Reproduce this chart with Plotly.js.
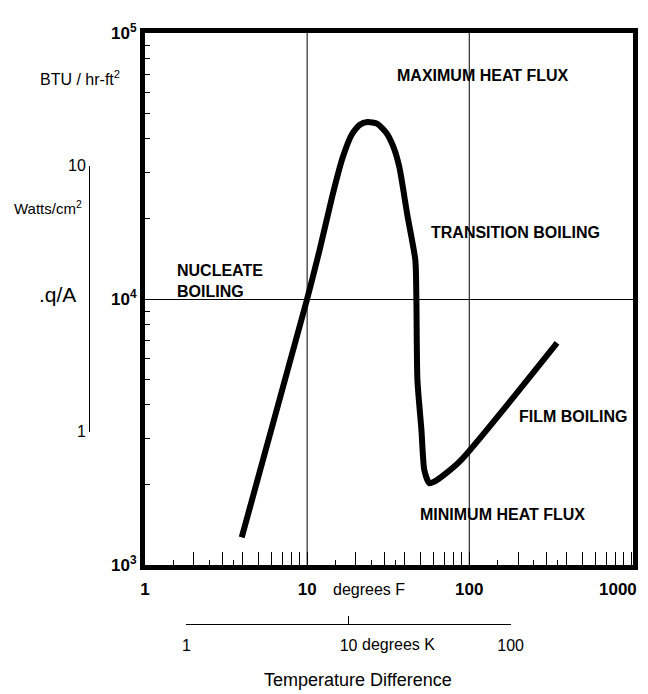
<!DOCTYPE html>
<html>
<head>
<meta charset="utf-8">
<script src="https://cdn.plot.ly/plotly-3.0.1.min.js"></script>
<style>html,body{margin:0;padding:0;background:#fff;}</style>
</head>
<body>
<div id="chart" style="width:648px;height:694px;"></div>
<script>
// ---- data ----
// Temperature difference, degrees F
const deltaT_F = [3.95, 10, 11.94, 14.35, 16.53, 18.79, 21.04, 23.57, 27.16, 30.85, 34.06, 37.06, 41.5, 46.5, 47.2, 47.9, 50.7, 52.8, 56.7, 63.5, 86.8, 348];
// Heat flux q/A, BTU / hr-ft^2
const heatFlux = [1270, 10000, 15280, 24600, 33900, 41400, 45100, 46300, 45500, 42100, 37300, 31300, 20700, 14000, 9910, 4950, 3220, 2280, 2030, 2090, 2440, 6840];

// axis ticks
const fTickVals = [1,2,3,4,5,6,7,8,9,10,20,30,40,50,60,70,80,90,100,200,300,400,500,600,700,800,900,1000];
const fTickText = ['1','','','','','','','','','10','','','','','','','','','100','','','','','','','','',''];
const fEndLabel = '1000';
const fMinorVals = [1.5,2.5,3.5,15,25,35,150,250,350];
const gridX = [10, 100];
const qTickVals = [1000, 10000, 100000];
const qTickText = ['10<sup>3</sup>','10<sup>4</sup>','10<sup>5</sup>'];
const qMinorVals = [2000,3000,4000,5000,6000,7000,8000,9000,20000,30000,40000,50000,60000,70000,80000,90000];
const kTickVals = [1, 10, 100];
const kTickText = ['1','10','100'];
const wTickVals = [1, 10];
const wTickText = ['1','10'];
const F_PER_K = 1.8;          // degrees F per degree K (difference)
const BTU_PER_WCM2 = 3170;    // BTU/hr-ft^2 per W/cm^2

// ---- layout helpers ----
const W = 648, H = 694;
const X = px => px / W;
const Y = py => 1 - py / H;
const FONT = "Liberation Sans, Arial, sans-serif";

const xDom = [X(145), X(633)];
const yDom = [Y(565), Y(33)];
const xRange = [0, 3.01];
const yRange = [3, 5];
const kDom = [
  xDom[0] + (xDom[1]-xDom[0]) * (Math.log10(F_PER_K*kTickVals[0]) - xRange[0])/(xRange[1]-xRange[0]),
  xDom[0] + (xDom[1]-xDom[0]) * (Math.log10(F_PER_K*kTickVals[2]) - xRange[0])/(xRange[1]-xRange[0])
];
const wDom = [
  yDom[0] + (yDom[1]-yDom[0]) * (Math.log10(BTU_PER_WCM2*wTickVals[0]) - yRange[0])/(yRange[1]-yRange[0]),
  yDom[0] + (yDom[1]-yDom[0]) * (Math.log10(BTU_PER_WCM2*wTickVals[1]) - yRange[0])/(yRange[1]-yRange[0])
];

const traces = [
  {x: deltaT_F, y: heatFlux, type:'scatter', mode:'lines',
   line:{color:'black', width:6, shape:'spline', smoothing:0.6}, hoverinfo:'skip'},
  {x: [], y: [], type:'scatter', mode:'lines', xaxis:'x2', yaxis:'y', hoverinfo:'skip'},
  {x: [], y: [], type:'scatter', mode:'lines', xaxis:'x', yaxis:'y2', hoverinfo:'skip'}
];

const ann = (text, x, y, size, opts) => Object.assign({
  text, x, y, xref:'paper', yref:'paper', xanchor:'left', yanchor:'middle',
  showarrow:false, font:{family:FONT, size, color:'black'}
}, opts || {});

const layout = {
  width: W, height: H,
  margin: {l:0, r:0, t:0, b:0},
  paper_bgcolor:'white', plot_bgcolor:'rgba(0,0,0,0)',
  showlegend:false,
  font:{family:FONT, color:'black'},
  xaxis: {
    type:'log', domain:xDom, range:xRange, anchor:'y', fixedrange:true,
    showline:true, mirror:true, linewidth:5, linecolor:'black',
    tickmode:'array', tickvals:fTickVals, ticktext:fTickText,
    ticks:'inside', ticklen:13, tickwidth:1, tickcolor:'black',
    showgrid:false, zeroline:false, ticklabelstandoff:5,
    tickfont:{family:FONT, size:17, weight:'bold', color:'black'},
    minor:{tickmode:'array', tickvals:fMinorVals, ticks:'inside', ticklen:5, tickwidth:1, tickcolor:'black', showgrid:false}
  },
  yaxis: {
    type:'log', domain:yDom, range:yRange, anchor:'x', fixedrange:true,
    showline:true, mirror:true, linewidth:5, linecolor:'black',
    tickmode:'array', tickvals:qTickVals, ticktext:qTickText,
    ticks:'inside', ticklen:5, tickwidth:1, tickcolor:'black',
    showgrid:true, gridcolor:'black', gridwidth:1, zeroline:false,
    tickfont:{family:FONT, size:17, weight:'bold', color:'black'},
    minor:{tickmode:'array', tickvals:qMinorVals, ticks:'inside', ticklen:5, tickwidth:1, tickcolor:'black', showgrid:false}
  },
  xaxis2: {
    type:'log', domain:kDom, range:[0,2], anchor:'free', position:Y(624), side:'bottom', fixedrange:true,
    showline:true, linewidth:1, linecolor:'black',
    tickmode:'array', tickvals:kTickVals, ticktext:kTickText,
    ticks:'inside', ticklen:8, tickwidth:1, tickcolor:'black',
    showgrid:false, zeroline:false, ticklabelstandoff:7,
    tickfont:{family:FONT, size:16, color:'black'}
  },
  yaxis2: {
    type:'log', domain:wDom, range:[0,1], anchor:'free', position:X(89), side:'left', fixedrange:true,
    showline:true, linewidth:1, linecolor:'black',
    tickmode:'array', tickvals:wTickVals, ticktext:wTickText,
    ticks:'inside', ticklen:6, tickwidth:1, tickcolor:'black',
    showgrid:false, zeroline:false,
    tickfont:{family:FONT, size:16, color:'black'}
  },
  shapes: gridX.map(v => ({type:'line', xref:'x', yref:'paper', x0:v, x1:v, y0:yDom[0], y1:yDom[1],
    line:{color:'black', width:1}, layer:'below'})),
  annotations: [
    ann('BTU / hr-ft<sup>2</sup>', X(38), Y(78), 16),
    ann('Watts/cm<sup>2</sup>', X(12), Y(207), 15),
    ann('.q/A', X(37), Y(294), 21),
    ann('<b>' + fEndLabel + '</b>', Math.log10(fTickVals[fTickVals.length-1]), Y(589), 17, {xref:'x', xanchor:'right', xshift:8}),
    ann('degrees F', Math.log10(gridX[0]), Y(589), 16, {xref:'x', xshift:24}),
    ann('degrees K', Math.log10(F_PER_K*kTickVals[1]), Y(644), 16, {xref:'x', xshift:11}),
    ann('Temperature Difference', X(358), Y(680), 18, {xanchor:'center'}),
    ann('<b>MAXIMUM HEAT FLUX</b>', X(395), Y(75), 16),
    ann('<b>TRANSITION BOILING</b>', X(429), Y(232), 16),
    ann('<b>NUCLEATE<br>BOILING</b>', X(175), Y(281), 16, {align:'left'}),
    ann('<b>FILM BOILING</b>', X(517), Y(416), 16),
    ann('<b>MINIMUM HEAT FLUX</b>', X(418), Y(514), 16)
  ]
};

Plotly.newPlot('chart', traces, layout, {staticPlot:true, displayModeBar:false});
</script>
</body>
</html>
